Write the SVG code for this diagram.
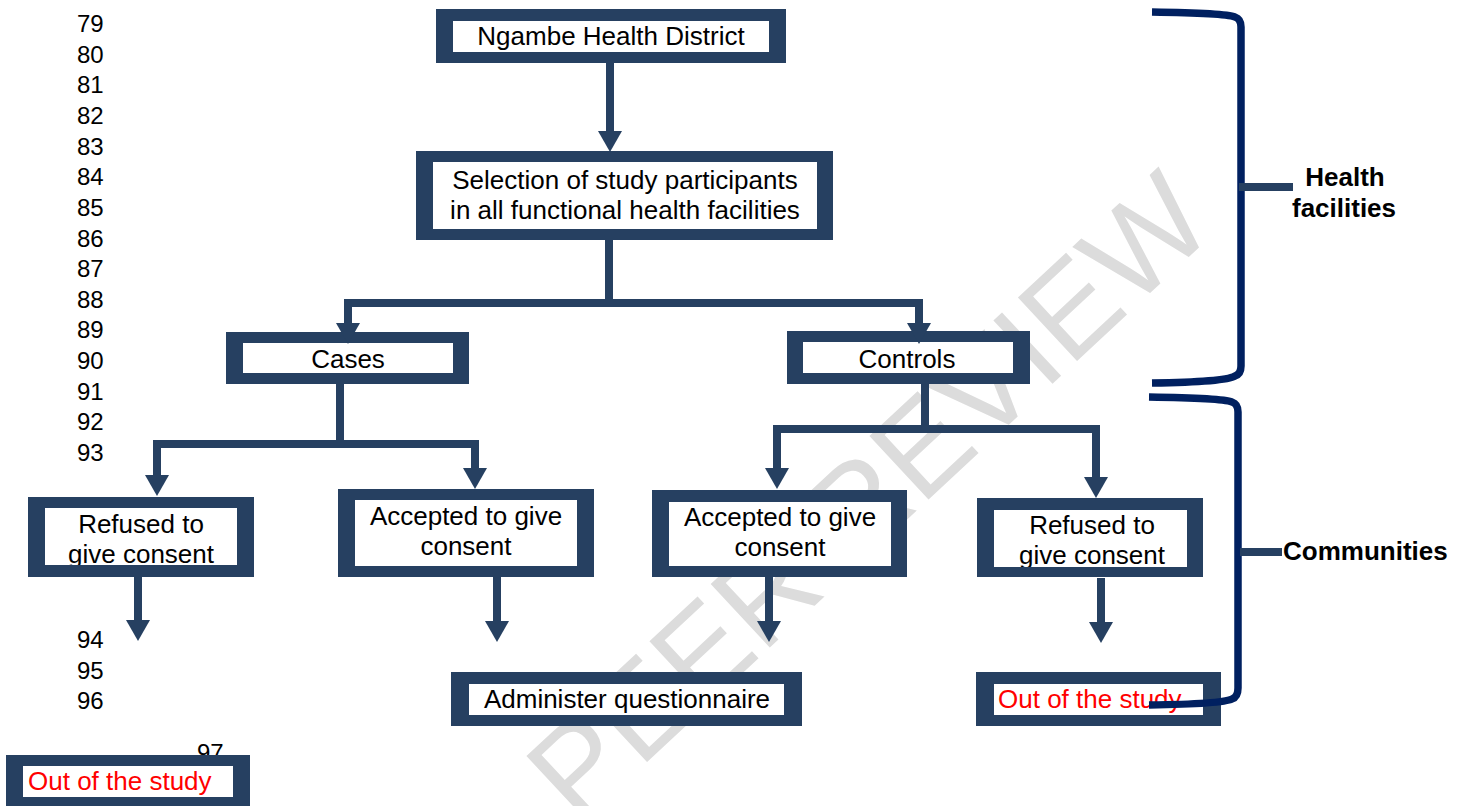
<svg xmlns="http://www.w3.org/2000/svg" width="1466" height="806" viewBox="0 0 1466 806">
<style>
  .bg{fill:#ffffff}
  .frame{fill:#264061;fill-rule:evenodd}
  .t{font-family:"Liberation Sans",Arial,sans-serif;font-size:26px;fill:#000;text-anchor:middle}
  .red{font-family:"Liberation Sans",Arial,sans-serif;font-size:26px;fill:#ff0000}
  .ln{font-family:"Liberation Sans",Arial,sans-serif;font-size:24px;fill:#000}
  .lab{font-family:"Liberation Sans",Arial,sans-serif;font-size:26px;font-weight:bold;fill:#000}
  .wm{font-family:"Liberation Sans",Arial,sans-serif;font-size:126px;fill:#dcdcdc;text-anchor:middle}
  .conn{fill:none;stroke:#264061;stroke-width:8;stroke-linejoin:miter}
  .brace{fill:none;stroke:#002060;stroke-width:7.5}
  .tick{fill:none;stroke:#264061;stroke-width:8}
</style>
<defs>
  <marker id="ah" markerUnits="userSpaceOnUse" markerWidth="30" markerHeight="30" refX="1" refY="12" orient="auto" overflow="visible">
    <path d="M0,0 L21,12 L0,24 Z" fill="#264061"/>
  </marker>
</defs>
<rect width="1466" height="806" fill="#ffffff"/>

<g id="watermark">
  <text class="wm" transform="translate(898,528) rotate(-43)">PEER REVIEW</text>
</g>

<g id="line-numbers">
  <text class="ln" x="77" y="32">79</text>
  <text class="ln" x="77" y="62.6">80</text>
  <text class="ln" x="77" y="93.3">81</text>
  <text class="ln" x="77" y="123.9">82</text>
  <text class="ln" x="77" y="154.6">83</text>
  <text class="ln" x="77" y="185.2">84</text>
  <text class="ln" x="77" y="215.8">85</text>
  <text class="ln" x="77" y="246.5">86</text>
  <text class="ln" x="77" y="277.1">87</text>
  <text class="ln" x="77" y="307.8">88</text>
  <text class="ln" x="77" y="338.4">89</text>
  <text class="ln" x="77" y="369">90</text>
  <text class="ln" x="77" y="399.7">91</text>
  <text class="ln" x="77" y="430.3">92</text>
  <text class="ln" x="77" y="461">93</text>
  <text class="ln" x="77" y="648">94</text>
  <text class="ln" x="77" y="679">95</text>
  <text class="ln" x="77" y="709">96</text>
  <text class="ln" x="197" y="761">97</text>
</g>

<g id="n-ngambe">
  <rect class="bg" x="453" y="21" width="316" height="31"/>
  <text class="t" x="611" y="45">Ngambe Health District</text>
  <path class="frame" d="M436,9 H786 V63 H436 Z M453,21 V52 H769 V21 Z"/>
</g>
<g id="n-selection">
  <rect class="bg" x="433" y="162" width="384" height="67"/>
  <text class="t" x="625" y="189">Selection of study participants</text>
  <text class="t" x="625" y="219">in all functional health facilities</text>
  <path class="frame" d="M416,151 H833 V240 H416 Z M433,162 V229 H817 V162 Z"/>
</g>
<g id="n-cases">
  <rect class="bg" x="243" y="343" width="210" height="30"/>
  <text class="t" x="348" y="368">Cases</text>
  <path class="frame" d="M226,332 H469 V384 H226 Z M243,343 V373 H453 V343 Z"/>
</g>
<g id="n-controls">
  <rect class="bg" x="803" y="342" width="210" height="31"/>
  <text class="t" x="907" y="368">Controls</text>
  <path class="frame" d="M787,331 H1030 V384 H787 Z M803,342 V373 H1013 V342 Z"/>
</g>
<g id="n-refused-cases">
  <rect class="bg" x="45" y="508" width="192" height="57"/>
  <text class="t" x="141" y="533">Refused to</text>
  <text class="t" x="141" y="563">give consent</text>
  <path class="frame" d="M28,497 H254 V577 H28 Z M45,508 V565 H237 V508 Z"/>
</g>
<g id="n-accepted-cases">
  <rect class="bg" x="355" y="500" width="222" height="66"/>
  <text class="t" x="466" y="525">Accepted to give</text>
  <text class="t" x="466" y="555">consent</text>
  <path class="frame" d="M338,489 H594 V577 H338 Z M355,500 V566 H577 V500 Z"/>
</g>
<g id="n-accepted-controls">
  <rect class="bg" x="669" y="502" width="222" height="64"/>
  <text class="t" x="780" y="526">Accepted to give</text>
  <text class="t" x="780" y="556">consent</text>
  <path class="frame" d="M652,490 H907 V577 H652 Z M669,502 V566 H891 V502 Z"/>
</g>
<g id="n-refused-controls">
  <rect class="bg" x="994" y="510" width="193" height="57"/>
  <text class="t" x="1092" y="534">Refused to</text>
  <text class="t" x="1092" y="564">give consent</text>
  <path class="frame" d="M977,498 H1203 V577 H977 Z M994,510 V567 H1187 V510 Z"/>
</g>
<g id="n-administer">
  <rect class="bg" x="469" y="684" width="315" height="31"/>
  <text class="t" x="627" y="708">Administer questionnaire</text>
  <path class="frame" d="M451,672 H802 V726 H451 Z M469,684 V715 H784 V684 Z"/>
</g>
<g id="n-out-right">
  <rect class="bg" x="994" y="684" width="209" height="31"/>
  <text class="red" x="998" y="708">Out of the study</text>
  <path class="frame" d="M976,672 H1221 V726 H976 Z M994,684 V715 H1203 V684 Z"/>
</g>
<g id="n-out-left">
  <rect class="bg" x="23" y="766" width="210" height="31"/>
  <text class="red" x="28" y="790">Out of the study</text>
  <path class="frame" d="M6,755 H250 V816 H6 Z M23,766 V797 H233 V766 Z"/>
</g>

<g id="connectors">
  <path class="conn" marker-end="url(#ah)" d="M610,63 V132"/>
  <path class="conn" marker-end="url(#ah)" d="M609,240 V303 H348 V324"/>
  <path class="conn" marker-end="url(#ah)" d="M609,303 H919 V324"/>
  <path class="conn" marker-end="url(#ah)" d="M340,384 V444 H157 V476"/>
  <path class="conn" marker-end="url(#ah)" d="M340,444 H475 V469"/>
  <path class="conn" marker-end="url(#ah)" d="M925,384 V429 H777 V469"/>
  <path class="conn" marker-end="url(#ah)" d="M925,429 H1096 V478"/>
  <path class="conn" marker-end="url(#ah)" d="M138,577 V621"/>
  <path class="conn" marker-end="url(#ah)" d="M497,577 V622"/>
  <path class="conn" marker-end="url(#ah)" d="M769,577 V622"/>
  <path class="conn" marker-end="url(#ah)" d="M1101,578 V623"/>
</g>

<g id="brackets">
  <path class="brace" d="M1152,12 Q1225,13 1235,17 Q1241,19 1241,27 V366 Q1241,374 1235,376 Q1225,382 1152,383"/>
  <path class="tick" d="M1239,187 H1293"/>
  <text class="lab" x="1345" y="186" text-anchor="middle">Health</text>
  <text class="lab" x="1344" y="217" text-anchor="middle">facilities</text>
  <path class="brace" d="M1149,397 Q1222,398 1232,402 Q1238,404 1238,412 V688 Q1238,697 1232,699 Q1222,704 1149,705"/>
  <path class="tick" d="M1240,552 H1282"/>
  <text class="lab" x="1283" y="560">Communities</text>
</g>
</svg>
